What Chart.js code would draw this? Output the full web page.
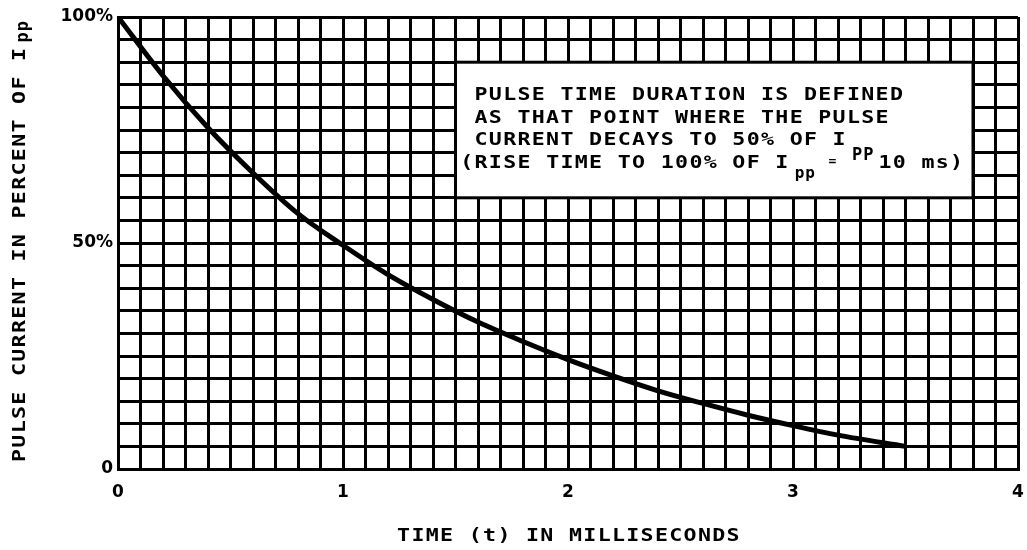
<!DOCTYPE html>
<html>
<head>
<meta charset="utf-8">
<script src="https://cdn.jsdelivr.net/npm/chart.js@4/dist/chart.umd.min.js"></script>
<style>
  html, body { margin: 0; padding: 0; background: #fff; }
  #wrap { width: 1027px; height: 550px; }
</style>
</head>
<body>
<div id="wrap"><canvas id="pulseChart" width="1027" height="550"></canvas></div>
<script>
// ─── data ───
const timeMs   = [0, 0.2, 0.4, 0.6, 0.8, 1.0, 1.2, 1.4, 1.6, 1.8, 2.0, 2.2, 2.4, 2.6, 2.8, 3.0, 3.2, 3.5];
const pulsePct = [100, 87, 75.5, 65.5, 56.5, 49.5, 43, 37.5, 32.5, 28.2, 24.2, 20.6, 17.3, 14.5, 11.9, 9.6, 7.5, 5];

const xTickLabels = ['0', '1', '2', '3', '4'];
const yTickLabels = { 0: '0', 50: '50%', 100: '100%' };

const xTitle = 'TIME (t) IN MILLISECONDS';
const yTitle = 'PULSE CURRENT IN PERCENT OF I';
const noteLines = [
    'PULSE TIME DURATION IS DEFINED',
    'AS THAT POINT WHERE THE PULSE',
    'CURRENT DECAYS TO 50% OF I',
    '(RISE TIME TO 100% OF I'
];
// note box corners in data units (ms, %)
const noteBox = { x0: 1.5, x1: 3.8, y0: 60, y1: 90 };

const MONO = '"DejaVu Sans Mono", monospace';
const SX = 1.2;   // horizontal stretch, the plotter lettering is wide

function spaced(ctx, px) {
    if ('letterSpacing' in ctx) ctx.letterSpacing = px + 'px';
}

// draws stretched lettering, returns its width on screen
function wideText(ctx, text, x, y) {
    ctx.save();
    ctx.translate(x, y);
    ctx.scale(SX, 1);
    ctx.fillText(text, 0, 0);
    const w = ctx.measureText(text).width * SX;
    ctx.restore();
    return w;
}

// ─── titles + note box ───
const decorPlugin = {
    id: 'decor',
    beforeDraw(chart) {
        const ctx = chart.ctx;
        ctx.save();
        ctx.fillStyle = '#fff';
        ctx.fillRect(0, 0, chart.width, chart.height);
        ctx.restore();
    },
    afterDatasetsDraw(chart) {
        const ctx = chart.ctx;
        const xs = chart.scales.x, ys = chart.scales.y;

        // note box
        const bx0 = xs.getPixelForValue(noteBox.x0), bx1 = xs.getPixelForValue(noteBox.x1);
        const by0 = ys.getPixelForValue(noteBox.y1), by1 = ys.getPixelForValue(noteBox.y0);
        ctx.save();
        ctx.fillStyle = '#fff';
        ctx.fillRect(bx0, by0, bx1 - bx0, by1 - by0);
        ctx.strokeStyle = '#000';
        ctx.lineWidth = 3;
        ctx.strokeRect(bx0, by0, bx1 - bx0, by1 - by0);

        ctx.fillStyle = '#000';
        ctx.textBaseline = 'alphabetic';
        ctx.textAlign = 'left';
        ctx.font = 'bold 18px ' + MONO;
        spaced(ctx, 1.1);
        const tx = bx0 + 19;
        const tx4 = tx - 14.3;
        const base = [100, 123, 145, 168];
        wideText(ctx, noteLines[0], tx, base[0]);
        wideText(ctx, noteLines[1], tx, base[1]);
        const w3 = wideText(ctx, noteLines[2], tx, base[2]);
        const w4 = wideText(ctx, noteLines[3], tx4, base[3]);
        wideText(ctx, '10 ms)', tx + 404, base[3]);

        ctx.font = 'bold 17px ' + MONO;
        spaced(ctx, 1);
        ctx.fillText('PP', tx + w3 + 5, base[2] + 15);
        ctx.font = 'bold 16px ' + MONO;
        ctx.fillText('pp', tx4 + w4 + 5, base[3] + 10);
        ctx.font = 'bold 13px ' + MONO;
        ctx.fillText('=', tx + 354, base[3] - 3);
        ctx.restore();

        // x title
        ctx.save();
        ctx.fillStyle = '#000';
        ctx.font = 'bold 18px ' + MONO;
        spaced(ctx, 1.1);
        ctx.textAlign = 'left';
        ctx.textBaseline = 'alphabetic';
        const wx = ctx.measureText(xTitle).width * SX;
        wideText(ctx, xTitle, (xs.left + xs.right) / 2 - wx / 2 + 1, 541);
        ctx.restore();

        // y title, rotated
        ctx.save();
        ctx.fillStyle = '#000';
        ctx.translate(25, 462);
        ctx.rotate(-Math.PI / 2);
        ctx.font = 'bold 18px ' + MONO;
        spaced(ctx, 1.1);
        ctx.textAlign = 'left';
        ctx.textBaseline = 'alphabetic';
        const wy = wideText(ctx, yTitle, 0, 0);
        ctx.font = 'bold 17px ' + MONO;
        spaced(ctx, 1);
        ctx.fillText('pp', wy + 4, 3);
        ctx.restore();
    }
};

document.addEventListener('DOMContentLoaded', () => {
    const ctx = document.getElementById('pulseChart').getContext('2d');
    new Chart(ctx, {
        type: 'line',
        data: {
            datasets: [{
                data: timeMs.map((t, i) => ({ x: t, y: pulsePct[i] })),
                borderColor: '#000',
                borderWidth: 5,
                pointRadius: 0,
                fill: false,
                cubicInterpolationMode: 'monotone'
            }]
        },
        options: {
            responsive: false,
            animation: false,
            layout: { padding: { top: 17, left: 0, right: 9, bottom: 0 } },
            plugins: { legend: { display: false }, tooltip: { enabled: false } },
            scales: {
                x: {
                    type: 'linear',
                    min: 0,
                    max: 4,
                    afterFit: s => {
                        s.height = 81;
                        s.paddingLeft = 0;
                        s.paddingRight = 0;
                    },
                    grid: { color: '#000', lineWidth: 3, drawTicks: false },
                    border: { color: '#000', width: 3 },
                    ticks: {
                        stepSize: 0.1,
                        autoSkip: false,
                        maxRotation: 0,
                        padding: 13,
                        color: '#000',
                        font: { family: '"DejaVu Sans"', size: 17, weight: 'bold' },
                        callback: v => {
                            const r = Math.round(v);
                            return Math.abs(v - r) < 1e-6 ? xTickLabels[r] : '';
                        }
                    }
                },
                y: {
                    min: 0,
                    max: 100,
                    afterFit: s => {
                        s.width = 118;
                        s.paddingTop = 0;
                        s.paddingBottom = 0;
                    },
                    grid: { color: '#000', lineWidth: 3, drawTicks: false },
                    border: { color: '#000', width: 3 },
                    ticks: {
                        stepSize: 5,
                        autoSkip: false,
                        padding: 5,
                        color: '#000',
                        font: { family: '"DejaVu Sans"', size: 17, weight: 'bold' },
                        callback: v => yTickLabels[Math.round(v)] || ''
                    }
                }
            }
        },
        plugins: [decorPlugin]
    });
});
</script>
</body>
</html>
